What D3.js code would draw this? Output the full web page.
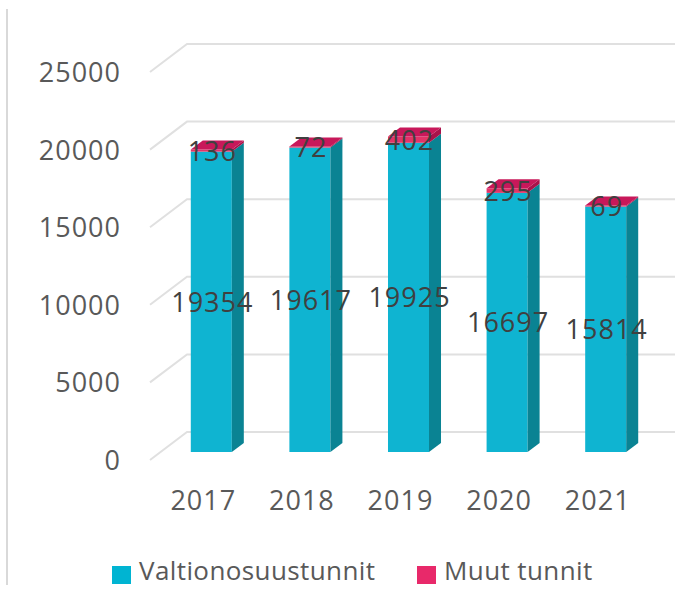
<!DOCTYPE html>
<html>
<head>
<meta charset="utf-8">
<script src="https://cdn.jsdelivr.net/npm/d3@7"></script>
<style>
  body { margin: 0; background: #fff; }
  text { font-family: "Open Sans", sans-serif; }
</style>
</head>
<body>
<div id="chart"></div>
<script>
const years = ["2017", "2018", "2019", "2020", "2021"];
const valtion = [19354, 19617, 19925, 16697, 15814];
const muut = [136, 72, 402, 295, 69];
const yTicks = [0, 5000, 10000, 15000, 20000, 25000];
const seriesNames = ["Valtionosuustunnit", "Muut tunnit"];

const W = 675, H = 589;
const depth = { x: 37, y: -28 };      // full depth of the 3d floor
const barFront = { x: 12, y: -8 };    // where the bar front sits in depth
const barDepth = { x: 12, y: -9 };    // thickness of the bar

const colors = {
    front: ["#0fb4d1", "#e23468"],
    side: ["#0a8393", "#a8124a"],
    top: ["#5fd3e6", "#c8185a"],
    legend: ["#00b4d2", "#e8296a"]
};

const svg = d3.select("#chart").append("svg")
    .attr("width", W)
    .attr("height", H);

const x = d3.scaleBand().domain(years).range([150, 643])
    .paddingInner(0.584).paddingOuter(0.292);
const y = d3.scaleLinear().domain([0, 25000]).range([460, 72]);

// left border line
svg.append("line")
    .attr("x1", 7).attr("x2", 7).attr("y1", 9).attr("y2", 585)
    .attr("stroke", "#d9d9d9").attr("stroke-width", 2);

// 3d gridlines: diagonal on the side wall, then across the back wall
const grid = svg.append("g");
yTicks.forEach(t => {
    grid.append("polyline")
        .attr("points", [
            [150, y(t)],
            [150 + depth.x, y(t) + depth.y],
            [W, y(t) + depth.y]
        ].map(p => p.join(",")).join(" "))
        .attr("fill", "none")
        .attr("stroke", "#e0e0e0")
        .attr("stroke-width", 2);
});

// y axis labels
svg.append("g").selectAll("text")
    .data(yTicks).enter().append("text")
    .attr("x", 121)
    .attr("y", d => y(d) + 10)
    .attr("text-anchor", "end")
    .attr("fill", "#595959")
    .style("font-size", "27px")
    .style("letter-spacing", "1px")
    .text(d => d);

// x axis labels
svg.append("g").selectAll("text")
    .data(years).enter().append("text")
    .attr("x", d => x(d) + x.bandwidth() / 2 + 4)
    .attr("y", 510)
    .attr("text-anchor", "middle")
    .attr("fill", "#595959")
    .style("font-size", "27px")
    .style("letter-spacing", "1px")
    .text(d => d);

// bars
const bars = svg.append("g");
years.forEach((yr, i) => {
    const x0 = x(yr) + barFront.x;
    const x1 = x0 + x.bandwidth();
    const segs = [[0, valtion[i]], [valtion[i], valtion[i] + muut[i]]];
    segs.forEach((s, k) => {
        const yb = y(s[0]) + barFront.y;
        const yt = y(s[1]) + barFront.y;
        bars.append("rect")
            .attr("x", x0).attr("y", yt)
            .attr("width", x1 - x0).attr("height", yb - yt)
            .attr("fill", colors.front[k]);
        bars.append("polygon")
            .attr("points", [[x1, yt], [x1 + barDepth.x, yt + barDepth.y],
                [x1 + barDepth.x, yb + barDepth.y], [x1, yb]].map(p => p.join(",")).join(" "))
            .attr("fill", colors.side[k]);
    });
    const yTop = y(valtion[i] + muut[i]) + barFront.y;
    bars.append("polygon")
        .attr("points", [[x0, yTop], [x0 + barDepth.x, yTop + barDepth.y],
            [x1 + barDepth.x, yTop + barDepth.y], [x1, yTop]].map(p => p.join(",")).join(" "))
        .attr("fill", colors.top[1]);
});

// value labels, centred on each segment
const labels = svg.append("g");
years.forEach((yr, i) => {
    const cx = x(yr) + barFront.x + x.bandwidth() / 2 + 1;
    const segs = [[0, valtion[i]], [valtion[i], valtion[i] + muut[i]]];
    [valtion[i], muut[i]].forEach((v, k) => {
        const mid = (segs[k][0] + segs[k][1]) / 2;
        labels.append("text")
            .attr("x", cx)
            .attr("y", y(mid) + barFront.y + 10)
            .attr("text-anchor", "middle")
            .attr("fill", "#404040")
            .style("font-size", "27px")
            .style("letter-spacing", "1px")
            .text(v);
    });
});

// legend
const legend = svg.append("g");
const legendX = [112, 417];
seriesNames.forEach((name, k) => {
    legend.append("rect")
        .attr("x", legendX[k]).attr("y", 566)
        .attr("width", 19).attr("height", 18)
        .attr("fill", colors.legend[k]);
    legend.append("text")
        .attr("x", legendX[k] + 27)
        .attr("y", 580)
        .attr("fill", "#595959")
        .style("font-size", "26px")
        .style("letter-spacing", "0.4px")
        .text(name);
});
</script>
</body>
</html>
